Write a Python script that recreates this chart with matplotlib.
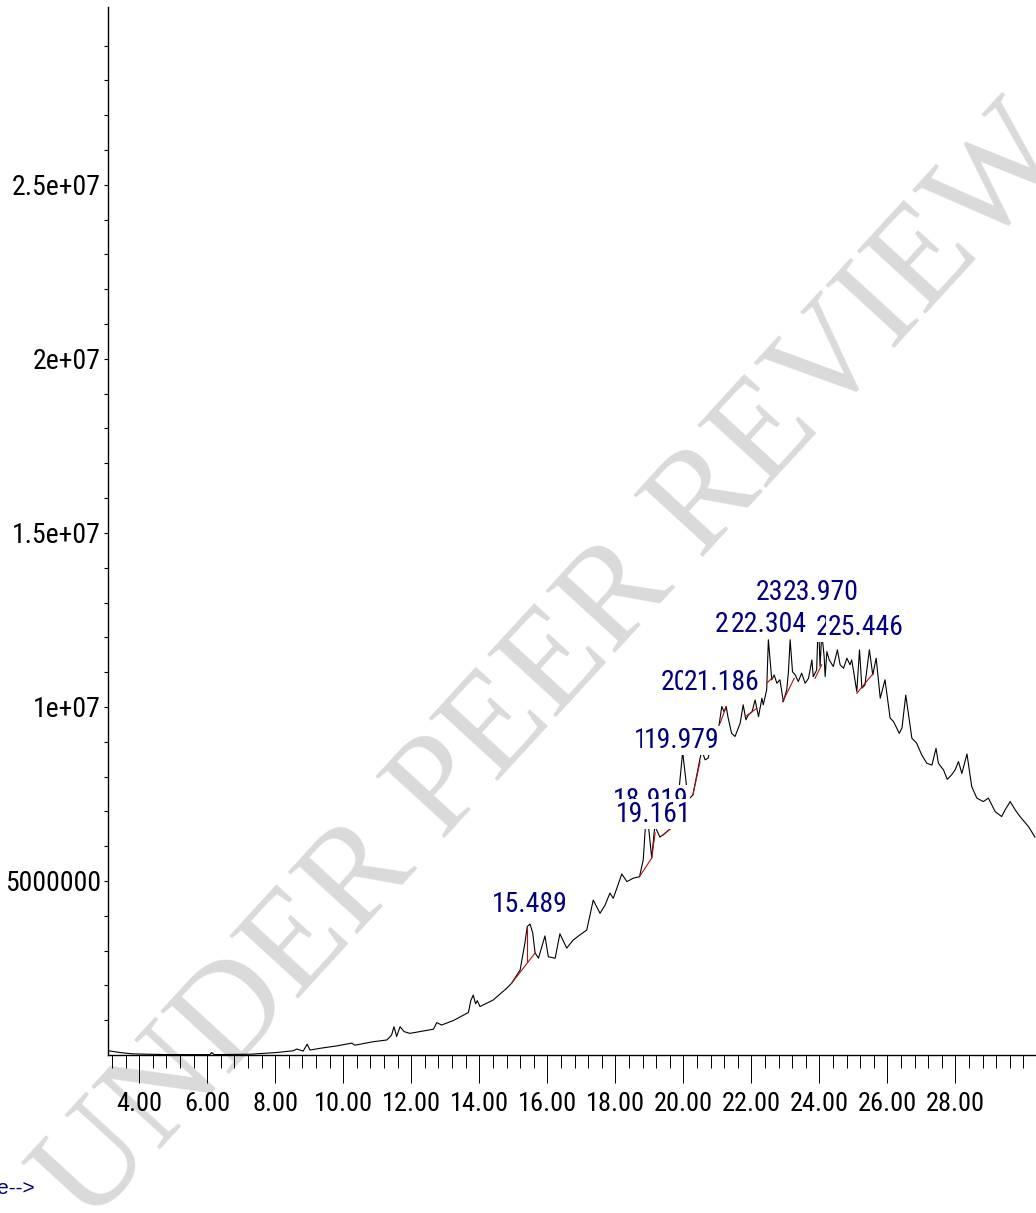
import numpy as np
import matplotlib
matplotlib.use('Agg')
import matplotlib.pyplot as plt
from matplotlib import font_manager
from matplotlib.ticker import FixedLocator, NullFormatter


def pick_font(names):
    for n in names:
        try:
            font_manager.findfont(n, fallback_to_default=False)
            return n
        except ValueError:
            pass
    return None


# TIC trace (time in min, abundance in millions)
times = [3.09, 3.43, 3.82, 4.81, 6.08, 6.13, 6.20, 7.26, 8.04, 8.53, 8.63, 8.82, 8.94, 9.02,
         9.31, 9.81, 10.25, 10.34, 10.88, 11.28, 11.42, 11.49, 11.57, 11.67, 11.79, 11.96,
         12.65, 12.75, 12.89, 13.24, 13.68, 13.75, 13.82, 13.89, 13.94, 14.02, 14.41, 14.81,
         14.95, 15.20, 15.34, 15.41, 15.49, 15.57, 15.64, 15.74, 15.93, 16.03, 16.23, 16.37,
         16.57, 16.76, 16.96, 17.16, 17.35, 17.55, 17.70, 17.84, 17.94, 18.19, 18.34, 18.53,
         18.71, 18.82, 18.92, 19.07, 19.16, 19.31, 19.40, 19.61, 19.81, 19.98, 20.14, 20.28,
         20.54, 20.64, 20.73, 20.84, 21.02, 21.13, 21.20, 21.26, 21.31, 21.42, 21.52, 21.67,
         21.76, 21.84, 21.91, 22.02, 22.11, 22.21, 22.31, 22.35, 22.45, 22.50, 22.60, 22.67,
         22.75, 22.84, 22.94, 23.04, 23.09, 23.14, 23.21, 23.29, 23.38, 23.48, 23.58, 23.68,
         23.78, 23.82, 23.92, 23.97, 24.02, 24.07, 24.14, 24.17, 24.22, 24.29, 24.41, 24.53,
         24.61, 24.71, 24.81, 24.90, 24.95, 25.00, 25.10, 25.18, 25.25, 25.34, 25.47, 25.57,
         25.67, 25.79, 25.93, 26.08, 26.18, 26.35, 26.43, 26.54, 26.72, 26.86, 27.01, 27.16,
         27.31, 27.43, 27.50, 27.65, 27.76, 27.89, 27.99, 28.09, 28.19, 28.34, 28.48, 28.63,
         28.82, 28.97, 29.17, 29.36, 29.46, 29.61, 29.76, 29.90, 30.15, 30.34]
abundance = [0.12, 0.07, 0.03, 0.01, 0.01, 0.07, 0.01, 0.02, 0.07, 0.12, 0.17, 0.11, 0.31, 0.14,
             0.19, 0.26, 0.34, 0.28, 0.38, 0.43, 0.57, 0.81, 0.53, 0.81, 0.67, 0.62,
             0.74, 0.93, 0.86, 0.99, 1.22, 1.56, 1.72, 1.47, 1.56, 1.39, 1.58, 1.92,
             2.06, 2.44, 3.21, 3.69, 3.76, 3.51, 2.93, 2.78, 3.42, 2.82, 2.78, 3.48,
             3.07, 3.30, 3.45, 3.59, 4.45, 4.07, 4.31, 4.65, 4.50, 5.20, 4.98, 5.08,
             5.12, 5.60, 7.10, 5.66, 6.58, 6.26, 6.32, 6.49, 6.98, 8.71, 7.33, 7.47,
             8.76, 8.48, 8.53, 9.05, 9.28, 10.01, 9.86, 10.01, 9.72, 9.24, 9.15, 9.53,
             10.06, 9.63, 9.77, 9.86, 10.20, 9.72, 10.25, 10.06, 10.49, 11.93, 10.78, 10.92,
             10.68, 10.78, 10.15, 10.49, 11.01, 11.93, 11.01, 10.92, 10.73, 10.97, 10.68, 10.82,
             11.35, 10.87, 11.06, 12.59, 11.16, 12.13, 11.45, 10.87, 11.59, 11.35, 11.16, 11.64,
             11.21, 11.11, 11.40, 11.21, 11.35, 11.06, 10.44, 11.64, 10.54, 10.63, 11.64, 10.92,
             11.40, 10.25, 10.78, 9.68, 9.58, 9.24, 9.40, 10.34, 9.10, 8.96, 8.62, 8.38,
             8.33, 8.81, 8.38, 8.19, 7.92, 8.05, 8.19, 8.43, 8.09, 8.65, 7.71, 7.38,
             7.28, 7.38, 6.99, 6.85, 7.04, 7.28, 7.04, 6.85, 6.56, 6.26]

# integration baselines (red)
base_t0 = [14.95, 15.39, 18.71, 19.07, 19.40, 20.28, 21.08, 21.82, 22.45, 22.92, 23.87, 25.10]
base_t1 = [15.64, 15.39, 19.07, 19.17, 19.61, 20.49, 21.26, 22.16, 22.65, 23.26, 24.07, 25.59]
base_a0 = [2.06, 2.68, 5.12, 5.66, 6.32, 7.47, 9.53, 9.72, 10.68, 10.15, 10.82, 10.39]
base_a1 = [2.93, 3.69, 5.66, 6.38, 6.49, 8.42, 10.01, 9.96, 10.87, 10.82, 11.21, 10.97]

# peak labels, in drawing order (later ones cover earlier ones)
peak_text = ['15.489', '18.919', '19.161', '19.682', '19.979', '20.453', '21.186',
             '22.027', '22.304', '23.138', '23.970', '25.181', '25.446']
peak_t = [15.49, 19.05, 19.14, 19.67, 19.94, 20.46, 21.14, 22.03, 22.50, 23.26, 24.05, 25.00, 25.35]
peak_a = [4.11, 7.10, 6.70, 8.82, 8.82, 10.49, 10.49, 12.16, 12.16, 13.07, 13.07, 12.07, 12.07]

x_major = [4, 6, 8, 10, 12, 14, 16, 18, 20, 22, 24, 26, 28]
x_labels = ['4.00', '6.00', '8.00', '10.00', '12.00', '14.00', '16.00', '18.00',
            '20.00', '22.00', '24.00', '26.00', '28.00']
y_major = [5e6, 1e7, 1.5e7, 2e7, 2.5e7]
y_labels = ['5000000', '1e+07', '1.5e+07', '2e+07', '2.5e+07']

narrow = pick_font(['Liberation Sans Narrow', 'Arial Narrow', 'Roboto Condensed', 'Open Sans Condensed'])
if narrow is None:
    narrow = 'Liberation Sans'
    fs_x, fs_y, fs_peak = 15, 16, 16
else:
    fs_x, fs_y, fs_peak = 19, 20, 20
navy = '#000080'

fig = plt.figure(figsize=(10.36, 12.13), dpi=100)
ax = fig.add_axes([0.1042, 0.1303, 0.8958, 0.8639])

# watermark behind everything
ax.text(0.536, 0.449, 'UNDER PEER REVIEW', transform=fig.transFigure, rotation=47.5,
        rotation_mode='anchor', ha='center', va='center', fontsize=102,
        family='Liberation Serif', color='#dadada', zorder=0.5, clip_on=False)

t = np.array(times)
a = np.array(abundance) * 1e6
ax.plot(t, a, color='black', lw=0.8, zorder=2)
for i in range(len(base_t0)):
    ax.plot([base_t0[i], base_t1[i]], [base_a0[i] * 1e6, base_a1[i] * 1e6],
            color='#b01010', lw=0.8, zorder=2.1)

for i in range(len(peak_text)):
    ax.text(peak_t[i], peak_a[i] * 1e6, peak_text[i], ha='center', va='baseline',
            fontsize=fs_peak, family=narrow, color=navy, zorder=3 + i * 0.01,
            bbox=dict(boxstyle='square,pad=0.05', fc='white', ec='none'))

ax.set_xlim(3.08, 30.37)
ax.set_ylim(0, 30.11e6)

for s in ['top', 'right']:
    ax.spines[s].set_visible(False)
ax.spines['left'].set_linewidth(1.0)
ax.spines['bottom'].set_linewidth(1.0)

ax.xaxis.set_major_locator(FixedLocator(x_major))
ax.set_xticklabels(x_labels, family=narrow, fontsize=fs_x)
ax.xaxis.set_minor_locator(FixedLocator(np.arange(3.2, 30.4, 0.4)))
ax.xaxis.set_minor_formatter(NullFormatter())
ax.tick_params(axis='x', which='major', direction='out', length=20, width=0.7, pad=7)
ax.tick_params(axis='x', which='minor', direction='out', length=9.5, width=0.7)

ax.yaxis.set_major_locator(FixedLocator(y_major))
ax.set_yticklabels(y_labels, family=narrow, fontsize=fs_y)
ax.yaxis.set_minor_locator(FixedLocator(np.arange(1e6, 3.0e7, 1e6)))
ax.yaxis.set_minor_formatter(NullFormatter())
ax.tick_params(axis='y', which='both', direction='out', length=3, width=0.8, pad=2)

fig.text(35 / 1036, 1 - 1189 / 1213, 'Time-->', ha='right', va='center',
         color=navy, fontsize=15, family='Liberation Sans')

fig.savefig('out.png', dpi=100)
